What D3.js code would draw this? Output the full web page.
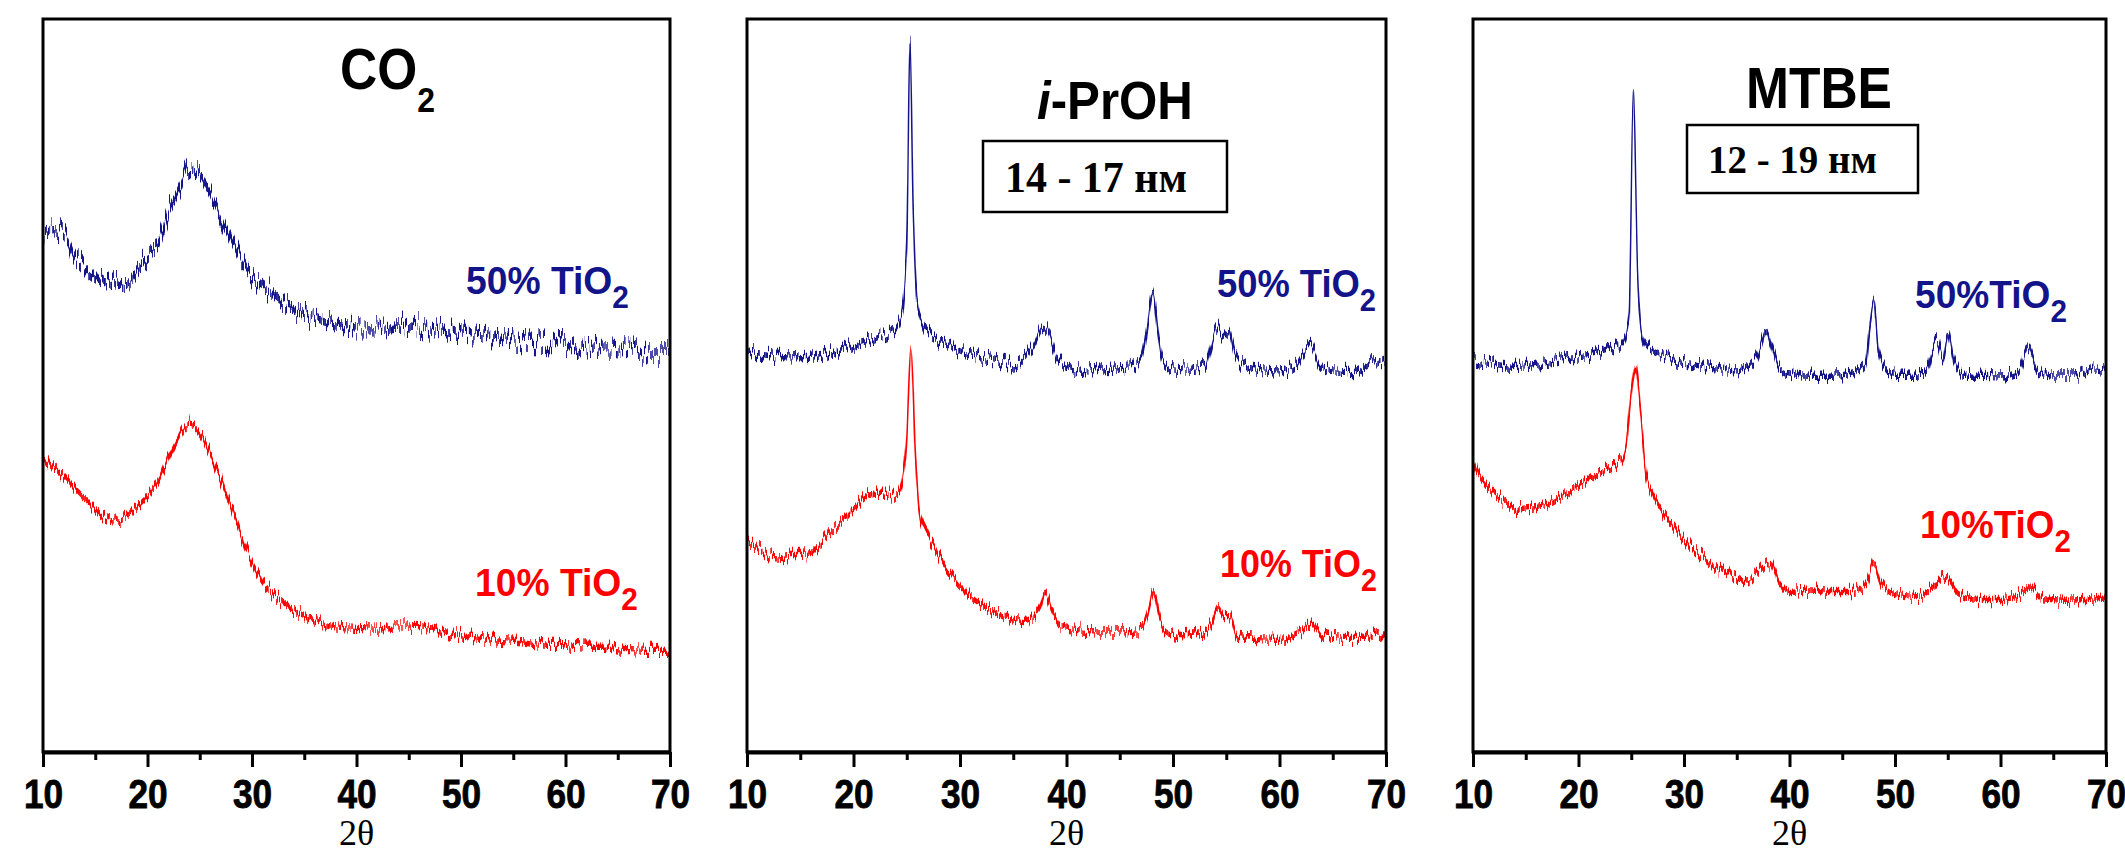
<!DOCTYPE html>
<html>
<head>
<meta charset="utf-8">
<script src="https://cdn.jsdelivr.net/npm/d3@7"></script>
<style>
  body { margin: 0; background: #fff; }
</style>
</head>
<body>
<div class="chart"></div>
<script>
// XRD patterns: 2θ (deg) vs intensity in a.u. (0 = frame bottom, 100 = frame top)
const panelTitles = ["CO2", "i-PrOH", "MTBE"]
const sizeLabels = [null, "14 - 17 нм", "12 - 19 нм"]
const seriesLabels = [["50% TiO", "10% TiO"], ["50% TiO", "10% TiO"], ["50%TiO", "10%TiO"]]
const majorTicks = [10, 20, 30, 40, 50, 60, 70]
const minorTicks = [15, 25, 35, 45, 55, 65]

const co2_50 = [[10,70.6],[11,71.4],[12,71.0],[13,68.0],[14,66.2],[15,65.0],[16,64.0],[17,64.3],[18,63.8],[19,65.8],[20,67.7],[21,69.1],[22,73.6],[23,76.6],[24,79.6],[25,78.8],[26,76.2],[27,72.9],[28,69.9],[29,66.9],[30,64.7],[31,63.6],[32,62.5],[33,61.3],[34,60.6],[35,59.9],[36,59.1],[38,58.4],[40,58.0],[42,58.0],[44,58.4],[46,58.1],[48,57.6],[50,57.2],[52,56.9],[54,56.4],[56,56.1],[58,55.9],[60,55.8],[62,55.0],[64,55.4],[66,55.0],[68,54.3],[70,54.3]]
const co2_10 = [[10,40.5],[11,38.7],[12,37.5],[13,36.1],[14,34.6],[15,33.1],[16,32.0],[17,31.6],[18,32.3],[19,33.5],[20,34.9],[21,36.8],[22,40.1],[23,43.1],[24,45.0],[25,43.9],[26,40.9],[27,37.2],[28,33.5],[29,29.4],[30,26.0],[31,23.4],[32,21.6],[33,20.4],[34,19.3],[35,18.6],[36,18.0],[38,17.2],[40,17.0],[42,16.9],[44,17.2],[46,17.1],[48,16.5],[50,16.0],[52,15.6],[54,15.2],[56,15.0],[58,14.6],[60,14.5],[62,14.3],[64,14.3],[66,14.1],[68,14.0],[70,14.0]]

const prOH_50 = [[10,54.6],[12,54.1],[14,53.9],[16,54.0],[18,54.6],[20,55.6],[22,56.5],[23,57.1],[24,58.0],[24.5,59.5],[25,69.1],[25.3,97.2],[25.6,74.3],[26,61.0],[26.5,58.4],[27,57.2],[28,56.1],[29,55.4],[30,54.6],[32,53.9],[34,53.2],[35,52.8],[36,53.5],[37,55.8],[37.8,58.1],[38.5,56.5],[39,53.9],[40,52.6],[42,52.0],[44,52.2],[46,52.4],[47,53.2],[47.6,58.0],[48.1,62.8],[48.6,57.2],[49,53.5],[50,52.4],[52,52.2],[53,52.6],[53.6,55.8],[54.1,58.0],[54.6,56.9],[55.2,57.8],[55.8,54.3],[56.5,52.8],[58,52.2],[60,52.0],[61.5,52.8],[62.4,55.0],[62.9,55.6],[63.7,53.2],[65,52.0],[67,51.9],[69,53.4],[70,52.8]]
const prOH_10 = [[10,29.0],[11,27.9],[12,26.8],[13,26.6],[14,26.8],[15,26.8],[16,27.1],[17,28.6],[18,30.1],[19,31.6],[20,33.1],[21,34.8],[22,35.3],[23,35.3],[24,34.9],[24.5,36.4],[25,43.1],[25.4,55.2],[25.8,40.9],[26.2,32.7],[27,29.4],[28,26.8],[29,24.5],[30,22.7],[31,21.2],[32,20.1],[33,19.3],[34,18.6],[35,18.0],[36,17.8],[37,18.6],[37.6,20.1],[38,21.8],[38.6,19.3],[39.5,17.1],[41,16.7],[43,16.5],[45,16.5],[47,16.7],[47.7,19.3],[48.2,21.9],[48.8,17.8],[49.5,16.4],[51,16.0],[53,16.4],[53.7,17.8],[54.2,19.7],[54.8,18.6],[55.3,18.6],[56,16.0],[58,15.6],[60,15.5],[62,16.4],[63,17.7],[64,16.0],[66,15.5],[68,15.5],[69.2,16.4],[70,15.6]]

const mtbe_50 = [[10,53.4],[12,52.9],[14,52.6],[16,52.9],[18,53.4],[20,53.9],[22,54.4],[23.5,55.2],[24.3,56.1],[24.8,59.5],[25.2,90.1],[25.6,65.4],[26,57.2],[26.5,55.4],[27.5,54.4],[29,53.5],[31,52.8],[33,52.4],[35,52.0],[36,52.6],[37,54.3],[37.8,57.6],[38.4,55.0],[39,52.4],[40,51.7],[42,51.4],[44,51.4],[46,51.7],[47.2,52.8],[47.6,58.0],[48,61.5],[48.4,55.0],[49,52.4],[50,51.4],[52,51.4],[53,52.0],[53.5,54.6],[54,56.1],[54.5,53.9],[55,57.1],[55.6,53.2],[56.5,51.4],[58,51.4],[60,51.3],[61.8,52.0],[62.6,55.0],[63.5,52.0],[65,51.3],[67,51.3],[69,52.4],[70,52.0]]
const mtbe_10 = [[10,39.8],[10.5,37.9],[11,36.8],[12,35.3],[13,34.2],[14,33.1],[15,33.3],[16,33.5],[17,33.8],[18,34.6],[19,35.3],[20,36.4],[21,37.5],[22,38.3],[23,39.0],[24,39.8],[24.5,41.6],[25,49.1],[25.4,52.8],[25.9,46.1],[26.4,37.9],[27,35.3],[28,32.7],[29,30.9],[30,29.0],[31,27.5],[32,26.4],[33,25.3],[34,24.4],[35,23.6],[36,23.2],[37,24.5],[38.1,25.8],[39,23.0],[40,21.9],[42,22.1],[44,21.9],[46,21.9],[47.3,23.0],[48,25.7],[48.7,23.0],[50,21.6],[52,21.2],[53.5,22.3],[54.5,23.9],[55.3,23.2],[56,21.6],[58,20.8],[60,20.8],[62,21.6],[62.8,22.5],[64,20.9],[66,20.7],[68,20.8],[70,21.0]]

const panelData = [[co2_50, co2_10], [prOH_50, prOH_10], [mtbe_50, mtbe_10]]
const seriesColors = ["#13138a", "#ff0000"]
// how grainy each trace looks (pixel jitter of the detector noise texture)
const grain = [[22, 12], [14, 12], [12, 12]]

// layout
const W = 2125, H = 854
const lefts = [43, 747, 1473]
const rights = [670, 1386, 2106]
const plotTop = 19, plotBottom = 752

const svg = d3.select(".chart")
  .append("svg")
  .attr("width", W)
  .attr("height", H)
  .style("display", "block")

// texture filters: shift pixel columns up/down to imitate a noisy counting trace
const defs = svg.append("defs")
const grainLevels = Array.from(new Set(grain.flat()))
grainLevels.forEach(s => {
  const f = defs.append("filter")
    .attr("id", "grain" + s)
    .attr("filterUnits", "userSpaceOnUse")
    .attr("x", 0).attr("y", 0).attr("width", W).attr("height", H)
    .attr("color-interpolation-filters", "sRGB")
  f.append("feTurbulence")
    .attr("type", "fractalNoise")
    .attr("baseFrequency", "0.55 0.01")
    .attr("numOctaves", 1)
    .attr("seed", 7)
    .attr("result", "turb")
  f.append("feColorMatrix")
    .attr("in", "turb")
    .attr("type", "matrix")
    .attr("values", "0 0 0 0 0.5  0 2.2 0 0 -0.6  0 0 0 0 0  0 0 0 0 1")
    .attr("result", "map")
  f.append("feDisplacementMap")
    .attr("in", "SourceGraphic")
    .attr("in2", "map")
    .attr("scale", s)
    .attr("xChannelSelector", "R")
    .attr("yChannelSelector", "G")
    .attr("result", "moved")
  f.append("feMorphology")
    .attr("in", "moved")
    .attr("operator", "dilate")
    .attr("radius", "0 " + (s > 15 ? 2.5 : 1.5))
})

// places a text (array of parts) at x, baseline y and squeezes it to a given width
function fitText(g, x, y, width, parts, size, family, color) {
  const t = g.append("text")
    .attr("font-family", family)
    .attr("font-weight", "bold")
    .attr("font-size", size)
    .attr("fill", color)
  parts.forEach(p => {
    const s = t.append("tspan").text(p.t)
    if (p.italic) s.attr("font-style", "italic")
    if (p.sub) s.attr("font-size", size * p.sub).attr("dy", size * p.shift)
  })
  const w = t.node().getBBox().width
  t.attr("transform", "translate(" + x + "," + y + ") scale(" + (width / w) + ",1)")
  return t
}

const titleParts = [
  [{t: "CO"}, {t: "2", sub: 0.62, shift: 0.4}],
  [{t: "i", italic: true}, {t: "-PrOH"}],
  [{t: "MTBE"}]
]
const titlePos = [[340, 89, 95, 57], [1037, 119, 156, 53], [1746, 108, 146, 58]]
const boxPos = [null, [983, 141, 244, 71, 1005, 192, 182, 44], [1687, 125, 231, 68, 1708, 173, 169, 40]]
const labelPos = [
  [[466, 294, 163], [475, 596, 163]],
  [[1217, 297, 159], [1220, 577, 157]],
  [[1915, 308, 152], [1920, 538, 151]]
]

panelTitles.forEach((title, i) => {
  const g = svg.append("g")

  const xScale = d3.scaleLinear().domain([10, 70]).range([lefts[i], rights[i]])
  const yScale = d3.scaleLinear().domain([0, 100]).range([plotBottom, plotTop])

  // curves
  const line = d3.line()
    .x(d => xScale(d[0]))
    .y(d => yScale(d[1]))
    .curve(d3.curveMonotoneX)

  panelData[i].forEach((series, j) => {
    g.append("path")
      .datum(series)
      .attr("d", line)
      .attr("fill", "none")
      .attr("stroke", seriesColors[j])
      .attr("stroke-width", 1.4)
      .attr("filter", "url(#grain" + grain[i][j] + ")")
  })

  // frame
  g.append("rect")
    .attr("x", lefts[i])
    .attr("y", plotTop)
    .attr("width", rights[i] - lefts[i])
    .attr("height", plotBottom - plotTop)
    .attr("fill", "none")
    .attr("stroke", "#000")
    .attr("stroke-width", 3)

  // x axis
  const xAxis = d3.axisBottom(xScale)
    .tickValues(majorTicks)
    .tickSize(15)
    .tickSizeOuter(0)
    .tickFormat(d3.format("d"))
  const ax = g.append("g")
    .attr("transform", "translate(0," + plotBottom + ")")
    .call(xAxis)
  ax.select(".domain").attr("stroke-width", 4)
  ax.selectAll(".tick line").attr("stroke-width", 3)
  ax.selectAll(".tick text")
    .attr("y", 56)
    .attr("dy", 0)
    .attr("font-family", "'Liberation Sans', Arial, sans-serif")
    .attr("font-weight", "bold")
    .attr("font-size", 40)
    .attr("fill", "#000")
    .attr("stroke", "#000")
    .attr("stroke-width", 0.8)
    .attr("transform", "scale(0.88,1)")

  const minorAxis = d3.axisBottom(xScale)
    .tickValues(minorTicks)
    .tickSize(8)
    .tickSizeOuter(0)
    .tickFormat("")
  const mx = g.append("g")
    .attr("transform", "translate(0," + plotBottom + ")")
    .call(minorAxis)
  mx.select(".domain").remove()
  mx.selectAll(".tick line").attr("stroke-width", 3)

  // x label
  g.append("text")
    .attr("x", (lefts[i] + rights[i]) / 2)
    .attr("y", 845)
    .attr("text-anchor", "middle")
    .attr("font-family", "'Liberation Serif', 'Times New Roman', serif")
    .attr("font-size", 36)
    .attr("fill", "#000")
    .text("2θ")

  // title
  const tp = titlePos[i]
  fitText(g, tp[0], tp[1], tp[2], titleParts[i], tp[3], "'Liberation Sans', Arial, sans-serif", "#000")

  // crystallite size box
  if (sizeLabels[i]) {
    const b = boxPos[i]
    g.append("rect")
      .attr("x", b[0]).attr("y", b[1])
      .attr("width", b[2]).attr("height", b[3])
      .attr("fill", "#fff")
      .attr("stroke", "#000")
      .attr("stroke-width", 2.5)
    fitText(g, b[4], b[5], b[6], [{t: sizeLabels[i]}], b[7], "'Liberation Serif', 'Times New Roman', serif", "#000")
  }

  // series labels
  seriesLabels[i].forEach((lab, j) => {
    const p = labelPos[i][j]
    fitText(g, p[0], p[1], p[2], [{t: lab}, {t: "2", sub: 0.8, shift: 0.36}], 39, "'Liberation Sans', Arial, sans-serif", seriesColors[j])
  })
})
</script>
</body>
</html>
